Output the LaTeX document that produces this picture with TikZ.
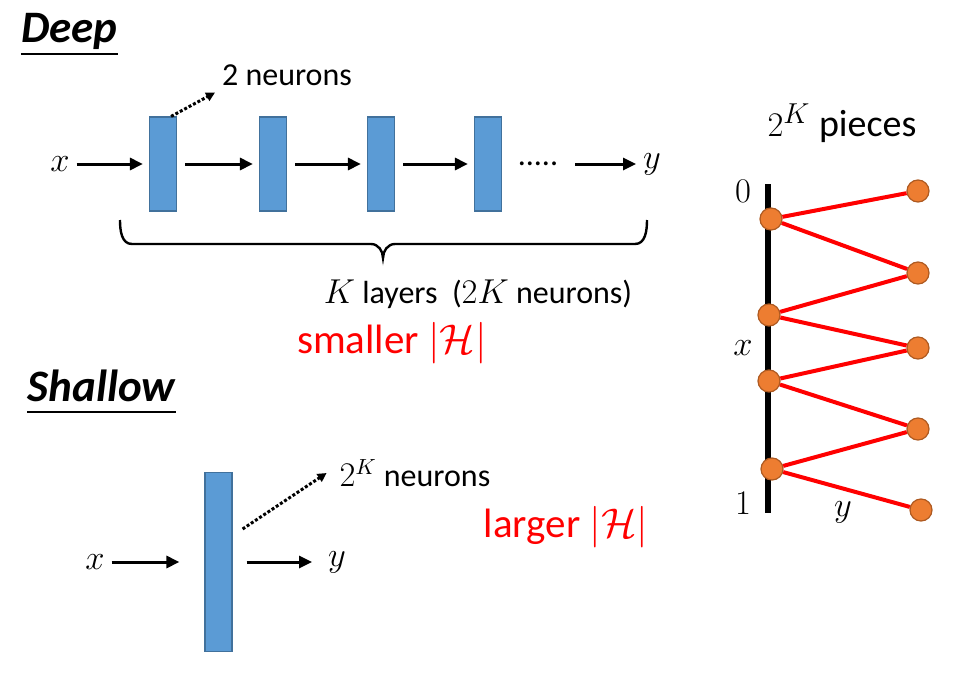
\documentclass[tikz,border=0pt]{standalone}
\usepackage{fontspec}
\setmainfont{Carlito}
\usepackage{xcolor}
\usetikzlibrary{positioning, arrows.meta}

\definecolor{boxblue}{HTML}{5B9BD5}
\definecolor{boxedge}{HTML}{41719C}
\definecolor{dotorange}{HTML}{ED7D31}
\definecolor{dotedge}{HTML}{AE5A21}

\begin{document}
\begin{tikzpicture}[
    x=0.5pt, y=-0.5pt,
    >={Triangle[length=6.5pt,width=6pt]},
    font=\fontsize{16}{19}\selectfont,
    layer/.style={draw=boxedge, fill=boxblue, line width=0.6pt, minimum width=13.5pt, inner sep=0pt},
    arr/.style={->, line width=1.5pt},
    dotarr/.style={-{Triangle[length=4.5pt,width=4.5pt]}, line width=1.5pt, densely dotted},
    title/.style={font=\fontsize{22.5}{26}\selectfont\bfseries\itshape, inner sep=0pt},
    redtxt/.style={text=red, font=\fontsize{20.5}{24}\selectfont},
    piece/.style={circle, draw=dotedge, fill=dotorange, minimum size=11pt, inner sep=0pt, line width=0.6pt},
    zig/.style={red, line width=2pt},
]
\useasboundingbox (0,0) rectangle (966,675);

% ===== Deep =====
\node[title] (deep) at (69.5,31) {Deep};
\draw[line width=0.9pt] ([yshift=-6pt]deep.base west) -- ([yshift=-6pt]deep.base east);

\node (xd) at (60,164) {$x$};
\foreach \i/\cx in {1/163,2/273,3/381,4/488}
    \node[layer, minimum height=47pt] (d\i) at (\cx,164) {};
\node (dots) at (538,164) {.....};
\node (yd) at (652,164) {$y$};

\draw[arr, shorten >=3pt] (xd) -- (d1);
\draw[arr, shorten <=4pt, shorten >=3pt] (d1) -- (d2);
\draw[arr, shorten <=4pt, shorten >=3pt] (d2) -- (d3);
\draw[arr, shorten <=4pt, shorten >=3pt] (d3) -- (d4);
\draw[arr, shorten <=5pt] (dots) -- (yd);

% neurons per layer
\node (n2) at (287,75) {2 neurons};
\draw[dotarr] ([xshift=-3pt]d1.north east) -- (n2.south west);

% brace under the layers
\draw[line width=1.2pt] (120,220) to[out=-90,in=180] (132,244) -- (371,244)
    to[out=0,in=90] (383,258) to[out=90,in=180] (395,244) -- (635,244)
    to[out=0,in=-90] (647,220);
\node (klayers) at (478,294) {$K$ layers\ \ ($2K$ neurons)};
\node[redtxt] (smaller) at (392,343) {smaller $|\mathcal{H}|$};

% ===== Shallow =====
\node[title] (shallow) at (101.5,386) {Shallow};
\draw[line width=0.9pt] ([yshift=-5pt]shallow.base west) -- ([yshift=-5pt]shallow.base east);

\node (xs) at (95,562) {$x$};
\node[layer, minimum height=89.5pt] (s1) at (218.5,562) {};
\node (ys) at (337,562) {$y$};
\draw[arr, shorten >=12.5pt] (xs) -- (s1);
\draw[arr, shorten <=7pt, shorten >=4.5pt] (s1) -- (ys);

\node (nk) at (415,473) {$2^K$ neurons};
\draw[dotarr] ([xshift=5pt,yshift=16.5pt]s1.east) -- ([xshift=-3pt]nk.west);
\node[redtxt] (larger) at (566,527) {larger $|\mathcal{H}|$};

% ===== Pieces =====
\node[font=\fontsize{19}{23}\selectfont] (pieces) at (842,123) {$2^K$\ pieces};
\coordinate (top) at (768,184);
\coordinate (bot) at (768,513);
\draw[line width=3pt] (top) -- (bot);
\node (zero) at (743,191) {$0$};
\node (one) at (743,503) {$1$};
\node (xr) at (743,348) {$x$};
\node (yr) at (843,512) {$y$};

\foreach \n/\px/\py in {l1/771/219, l2/769/315, l3/769/381, l4/772/469,
                         r1/918/191, r2/918/273, r3/918/348, r4/918/429, r5/921/510}
    \node[piece] (\n) at (\px,\py) {};

\foreach \a/\b in {l1/r1, l1/r2, l2/r2, l2/r3, l3/r3, l3/r4, l4/r4, l4/r5}
    \draw[zig] (\a) -- (\b);

\end{tikzpicture}
\end{document}
